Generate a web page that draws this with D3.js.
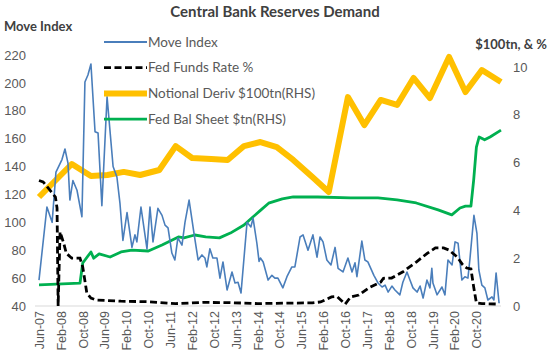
<!DOCTYPE html>
<html>
<head>
<meta charset="utf-8">
<script src="https://cdn.jsdelivr.net/npm/d3@7"></script>
<style>
  body { margin: 0; background: #fff; }
  svg { font-family: Lato, "Open Sans", sans-serif; }
</style>
</head>
<body>
<svg id="chart" width="550" height="357"></svg>
<script>
// month offsets are counted from Jun-07
const tickLabels = ["Jun-07", "Feb-08", "Oct-08", "Jun-09", "Feb-10", "Oct-10", "Jun-11", "Feb-12", "Oct-12",
    "Jun-13", "Feb-14", "Oct-14", "Jun-15", "Feb-16", "Oct-16", "Jun-17", "Feb-18", "Oct-18", "Jun-19", "Feb-20", "Oct-20"];
const leftTicks = [40, 60, 80, 100, 120, 140, 160, 180, 200, 220];
const rightTicks = [0, 2, 4, 6, 8, 10];

const moveIndex = [[0, 58.6], [2.9, 111], [4.8, 100], [6.2, 136], [8.4, 145], [9.5, 152.6], [10.6, 142.5], [11.3, 116],
    [12.4, 130], [13.9, 123], [15.7, 104], [16.8, 200.6], [17.9, 205.7], [19.0, 213.5], [20.5, 165], [21.6, 164],
    [23.0, 112], [24.9, 190], [27.1, 140], [28.5, 132.5], [29.6, 114], [30.7, 87], [32.2, 107], [34.0, 82], [35.1, 91],
    [35.8, 86], [37.3, 111], [39.5, 81], [40.6, 111], [41.7, 86], [43.5, 110], [45.0, 105], [46.1, 98], [47.2, 96],
    [48.6, 78], [49.7, 73], [50.8, 88.8], [52.3, 83.7], [53.4, 100], [54.9, 116], [56.7, 92], [58.2, 73], [59.6, 76.6],
    [60.7, 74.4], [61.4, 68], [62.5, 81], [63.6, 74.4], [65.1, 74.4], [66.2, 60], [67.3, 71.6], [68.8, 51.5],
    [70.6, 64.4], [71.7, 56.5], [72.8, 57], [73.9, 49.3], [76.1, 100], [77.5, 96.7], [78.3, 103], [79.7, 85],
    [80.5, 72], [81.0, 74.4], [82.0, 71.6], [83.8, 58.6], [85.2, 62], [86.3, 60], [87.4, 60], [89.2, 53], [90.7, 61],
    [92.5, 68], [93.6, 68], [95.5, 89.5], [96.6, 91], [98.4, 80], [100.2, 91], [101.7, 75], [102.8, 89.5], [103.9, 86],
    [105.3, 73], [106.8, 69.4], [108.3, 82], [109.4, 67], [111.2, 64.4], [113.0, 74.4], [114.5, 64.4], [115.6, 71],
    [116.3, 61], [118.1, 86.6], [119.2, 73], [120.3, 71.6], [122.5, 62], [124.0, 56.5], [125.5, 53.6], [126.6, 55],
    [127.7, 50], [129.1, 54.3], [130.2, 51.5], [132.0, 48], [133.1, 57], [134.6, 64.4], [135.7, 58.6], [136.8, 53],
    [138.3, 50], [139.4, 54.3], [140.5, 45.7], [141.9, 58.6], [143.0, 53], [143.7, 67], [144.1, 56.5], [145.6, 48],
    [147.4, 53.6], [148.5, 48], [149.6, 73], [151.1, 69.4], [152.2, 86], [153.3, 85], [154.7, 58.6], [155.8, 61],
    [156.9, 60], [157.6, 73], [159.1, 105], [160.2, 92], [160.9, 65.8], [162.0, 55], [163.1, 53], [164.2, 44.3],
    [165.7, 46.5], [166.4, 44.3], [167.2, 63.7], [168.3, 42]];

const fedFunds = [[0, 5.25], [1.5, 5.19], [4, 4.85], [6, 4.56], [6.6, 4.1], [7, 0], [7.7, 3.1], [9, 2.64], [10, 2.2],
    [12, 2.0], [15, 2.0], [16, 1.63], [17.5, 0.54], [19, 0.33], [21, 0.25], [30, 0.2], [40, 0.18], [50, 0.1],
    [60, 0.15], [70, 0.14], [80, 0.1], [90, 0.12], [100, 0.13], [103, 0.17], [107, 0.38], [109, 0.4], [112, 0.08],
    [114, 0.38], [117, 0.46], [121, 0.78], [125, 1.0], [126, 1.16], [129, 1.17], [133, 1.42], [138, 1.84], [142, 2.2],
    [145, 2.43], [148, 2.43], [150, 2.34], [153, 2.05], [155, 1.72], [156.5, 1.59], [158, 1.55], [159, 0.8],
    [160, 0.13], [162, 0.1], [168, 0.08]];

const notional = [[0, 4.56], [6, 5.25], [12, 5.94], [19, 5.44], [25, 5.48], [31, 5.61], [37, 5.48], [44, 5.69],
    [50, 6.69], [56, 6.19], [63, 6.15], [69, 6.11], [75, 6.69], [81, 6.86], [87, 6.65], [93, 6.11], [100, 5.40],
    [106, 4.77], [113, 8.74], [119, 7.57], [125, 8.62], [131, 8.41], [137, 9.54], [143, 8.70], [150, 10.42],
    [156, 8.95], [162, 9.87], [169, 9.37]];

const fedBalSheet = [[0, 0.88], [15, 0.96], [16, 1.8], [19, 2.26], [20, 2.0], [22, 2.18], [26, 2.05], [30, 2.26],
    [34, 2.34], [40, 2.3], [45, 2.55], [51, 2.89], [53, 2.85], [57, 2.97], [61, 2.89], [66, 2.85], [70, 3.05],
    [75, 3.39], [77, 3.6], [81, 4.0], [84, 4.3], [89, 4.48], [93, 4.56], [102, 4.56], [114, 4.52], [124, 4.52],
    [131, 4.44], [138, 4.31], [146, 4.02], [151, 3.81], [154, 4.1], [156, 4.18], [158, 4.18], [159, 5.27],
    [160, 6.65], [161, 7.07], [163, 6.95], [165, 7.07], [169, 7.36]];

const seriesNames = ["Move Index", "Fed Funds Rate %", "Notional Deriv $100tn(RHS)", "Fed Bal Sheet $tn(RHS)"];
const colors = {move: "#4a7ebb", fed: "#000", notional: "#ffc000", bal: "#00b050"};

const svg = d3.select("#chart");
const textColor = "#595959";

const parseTick = d3.timeParse("%b-%y");
const start = parseTick(tickLabels[0]);

const x = d3.scaleLinear().domain([0, 169]).range([39, 501]);
const yL = d3.scaleLinear().domain([40, 220]).range([306, 55]);
const yR = d3.scaleLinear().domain([0, 10.5]).range([306, 55]);

// baseline
svg.append("line")
    .attr("x1", 35).attr("x2", 501)
    .attr("y1", yL(40)).attr("y2", yL(40))
    .attr("stroke", "#d9d9d9").attr("stroke-width", 1);

// left axis
const leftAxis = d3.axisLeft(yL).tickValues(leftTicks).tickSize(0).tickPadding(0);
svg.append("g")
    .attr("transform", "translate(26,0)")
    .call(leftAxis)
    .call(g => g.select(".domain").remove())
    .selectAll("text")
    .attr("fill", textColor).style("font-size", "13px");

// right axis
const rightAxis = d3.axisRight(yR).tickValues(rightTicks).tickSize(0).tickPadding(0);
svg.append("g")
    .attr("transform", "translate(513,0)")
    .call(rightAxis)
    .call(g => g.select(".domain").remove())
    .selectAll("text")
    .attr("fill", textColor).style("font-size", "13px");

// bottom axis with rotated labels
const tickMonths = tickLabels.map(t => d3.timeMonth.count(start, parseTick(t)));
const bottomAxis = d3.axisBottom(x).tickValues(tickMonths)
    .tickFormat((d, i) => tickLabels[i]).tickSize(0).tickPadding(0);
svg.append("g")
    .attr("transform", "translate(0,311)")
    .call(bottomAxis)
    .call(g => g.select(".domain").remove())
    .selectAll("text")
    .attr("fill", textColor).style("font-size", "12.5px")
    .attr("text-anchor", "end")
    .attr("dy", "0.35em")
    .attr("transform", "rotate(-90)")
    .attr("x", 0).attr("y", 0);

// lines
const lineL = d3.line().x(d => x(d[0])).y(d => yL(d[1]));
const lineR = d3.line().x(d => x(d[0])).y(d => yR(d[1]));

svg.append("path").datum(fedBalSheet)
    .attr("d", lineR).attr("fill", "none")
    .attr("stroke", colors.bal).attr("stroke-width", 2.8).attr("stroke-linejoin", "round");

svg.append("path").datum(notional)
    .attr("d", lineR).attr("fill", "none")
    .attr("stroke", colors.notional).attr("stroke-width", 6).attr("stroke-linejoin", "round");

svg.append("path").datum(moveIndex)
    .attr("d", lineL).attr("fill", "none")
    .attr("stroke", colors.move).attr("stroke-width", 1.6).attr("stroke-linejoin", "round");

svg.append("path").datum(fedFunds)
    .attr("d", lineR).attr("fill", "none")
    .attr("stroke", colors.fed).attr("stroke-width", 2.8)
    .attr("stroke-dasharray", "7,3.5");

// titles
svg.append("text")
    .attr("x", 275).attr("y", 17)
    .attr("text-anchor", "middle")
    .attr("fill", "#404040")
    .style("font-size", "15px").style("font-weight", "bold")
    .text("Central Bank Reserves Demand");

svg.append("text")
    .attr("x", 4).attr("y", 31)
    .attr("fill", "#404040")
    .style("font-size", "13px").style("font-weight", "bold")
    .text("Move Index");

svg.append("text")
    .attr("x", 547).attr("y", 49)
    .attr("text-anchor", "end")
    .attr("fill", "#404040")
    .style("font-size", "13px").style("font-weight", "bold")
    .text("$100tn, & %");

// legend
const legendStyles = [
    {stroke: colors.move, width: 2, dash: null},
    {stroke: colors.fed, width: 2.8, dash: "7,3.5"},
    {stroke: colors.notional, width: 6, dash: null},
    {stroke: colors.bal, width: 2.8, dash: null}
];
const legend = svg.append("g");
seriesNames.forEach((name, i) => {
    const cy = 42 + i * 25.7;
    legend.append("line")
        .attr("x1", 104).attr("x2", 147)
        .attr("y1", cy).attr("y2", cy)
        .attr("stroke", legendStyles[i].stroke)
        .attr("stroke-width", legendStyles[i].width)
        .attr("stroke-dasharray", legendStyles[i].dash);
    legend.append("text")
        .attr("x", 148).attr("y", cy)
        .attr("dy", "0.35em")
        .attr("fill", textColor)
        .style("font-size", "13.5px")
        .text(name);
});
</script>
</body>
</html>
